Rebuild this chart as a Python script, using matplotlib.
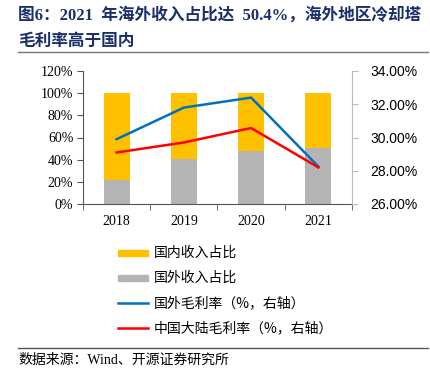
import matplotlib
matplotlib.use('Agg')
import matplotlib.pyplot as plt
from matplotlib.patches import Rectangle
from matplotlib.lines import Line2D
import numpy as np

# data
years = ['2018', '2019', '2020', '2021']
foreign_share = [21.7, 40.3, 48.2, 50.4]
domestic_share = [100 - v for v in foreign_share]
foreign_margin = [29.90, 31.80, 32.40, 28.25]
china_margin = [29.10, 29.70, 30.57, 28.20]

left_ticks = [0, 20, 40, 60, 80, 100, 120]
right_ticks = [26, 28, 30, 32, 34]

legend_labels = ['国内收入占比', '国外收入占比', '国外毛利率（%，右轴）', '中国大陆毛利率（%，右轴）']

YELLOW = '#FFC000'
GRAY = '#B4B4B4'
BLUE = '#0070C0'
RED = '#FF0000'
TITLE_BLUE = '#1A2F6B'

W, H = 431, 374
CJK = ['Liberation Serif', 'Noto Sans CJK SC']

fig = plt.figure(figsize=(W / 100, H / 100), dpi=100)

# title
fig.text(18 / W, 1 - 15 / H, '图6：2021  年海外收入占比达  50.4%，海外地区冷却塔',
         family=CJK, fontsize=12, fontweight='bold', color=TITLE_BLUE, va='center', ha='left')
fig.text(18 / W, 1 - 42 / H, '毛利率高于国内',
         family=CJK, fontsize=12, fontweight='bold', color=TITLE_BLUE, va='center', ha='left')
fig.add_artist(Line2D([18 / W, 428 / W], [1 - 52 / H, 1 - 52 / H], color='#777777', lw=1.0))

# main axes
ax = fig.add_axes([83 / W, 1 - 204 / H, 269 / W, 133 / H])
x = np.arange(len(years))
ax.bar(x, foreign_share, width=0.39, color=GRAY)
ax.bar(x, domestic_share, width=0.39, bottom=foreign_share, color=YELLOW)
ax.set_xlim(-0.5, len(years) - 0.5)
ax.set_ylim(0, 120)
ax.set_yticks(left_ticks)
ax.set_yticklabels([f'{t}%' for t in left_ticks], family='Liberation Serif', fontsize=10)
ax.set_xticks(x)
ax.set_xticklabels(years, family='Liberation Serif', fontsize=10)
ax.tick_params(axis='x', length=0, pad=8)
ax.set_xticks(np.arange(-0.5, len(years)), minor=True)
ax.tick_params(axis='x', which='minor', length=4, color='#555555')
ax.tick_params(axis='y', length=4, color='#555555', pad=3)
for s in ['top', 'right']:
    ax.spines[s].set_visible(False)
ax.spines['left'].set_color('#555555')
ax.spines['bottom'].set_color('#555555')

ax2 = ax.twinx()
ax2.plot(x, foreign_margin, color=BLUE, lw=1.8)
ax2.plot(x, china_margin, color=RED, lw=1.8)
ax2.set_ylim(26, 34)
ax2.set_yticks(right_ticks)
ax2.set_yticklabels([f'{t:.2f}%' for t in right_ticks], family='Liberation Sans', fontsize=10)
ax2.tick_params(axis='y', length=4, color='#BBBBBB', pad=9)
for s in ['top', 'left', 'bottom']:
    ax2.spines[s].set_visible(False)
ax2.spines['right'].set_color('#BBBBBB')

# legend drawn by hand
rows = [253, 278, 303, 328]
handles = ['bar', 'bar', 'line', 'line']
colors = [YELLOW, GRAY, BLUE, RED]
for y, kind, c, lab in zip(rows, handles, colors, legend_labels):
    yy = 1 - y / H
    if kind == 'bar':
        fig.add_artist(Rectangle((118 / W, yy - 3 / H), 30 / W, 6 / H, color=c, transform=fig.transFigure))
    else:
        fig.add_artist(Line2D([118 / W, 148 / W], [yy, yy], color=c, lw=1.8))
    fig.text(154 / W, yy, lab, family=['Noto Sans CJK SC'], fontsize=10, va='center', ha='left')

# source
fig.add_artist(Line2D([18 / W, 428 / W], [1 - 348 / H, 1 - 348 / H], color='#555555', lw=1.0))
fig.text(18 / W, 1 - 360 / H, '数据来源：Wind、开源证券研究所', family=CJK, fontsize=10,
         va='center', ha='left')

fig.savefig('out.png', dpi=100)
